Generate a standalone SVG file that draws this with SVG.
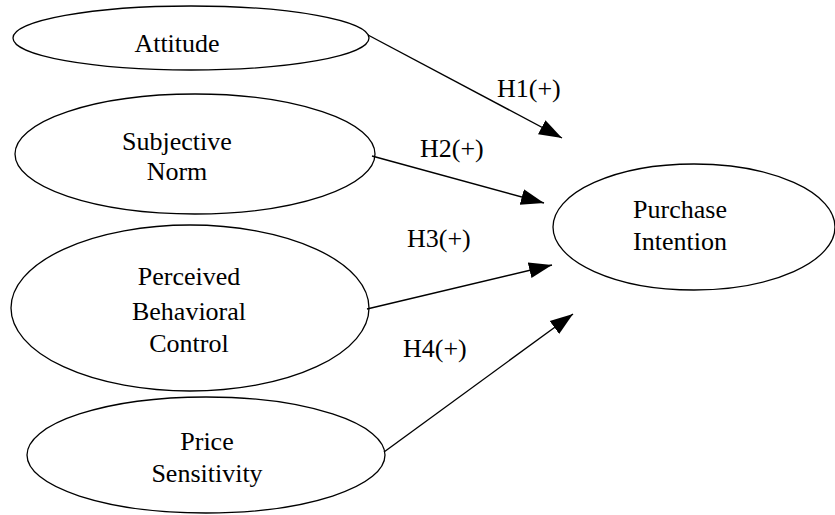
<svg xmlns="http://www.w3.org/2000/svg" width="835" height="515" viewBox="0 0 835 515">
<style>
.node ellipse{fill:#fff;stroke:#000;stroke-width:1.3}
text{font-family:"Liberation Serif","Times New Roman",serif;font-size:26px;fill:#000}
.node text{text-anchor:middle}
.edges line{stroke:#000;stroke-width:1.4}
</style>
<defs>
<marker id="arr" markerUnits="userSpaceOnUse" markerWidth="24" markerHeight="18" viewBox="0 0 24 18" refX="23" refY="9" orient="auto">
<path d="M0,1 L23,9 L0,17 Z" fill="#000"/>
</marker>
</defs>
<g id="attitude" class="node">
<ellipse cx="191" cy="38" rx="178" ry="32"/>
<text x="177" y="52">Attitude</text>
</g>
<g id="subjective-norm" class="node">
<ellipse cx="195" cy="154" rx="180" ry="60"/>
<text x="177" y="150">Subjective</text>
<text x="177" y="180">Norm</text>
</g>
<g id="pbc" class="node">
<ellipse cx="190" cy="308" rx="179" ry="83"/>
<text x="189" y="285">Perceived</text>
<text x="189" y="320">Behavioral</text>
<text x="189" y="352">Control</text>
</g>
<g id="price-sensitivity" class="node">
<ellipse cx="206" cy="455" rx="179" ry="58"/>
<text x="207" y="450">Price</text>
<text x="207" y="482">Sensitivity</text>
</g>
<g id="purchase-intention" class="node">
<ellipse cx="694" cy="227" rx="141" ry="63"/>
<text x="680" y="218">Purchase</text>
<text x="680" y="250">Intention</text>
</g>
<g id="connectors" class="edges">
<line x1="368" y1="35" x2="562" y2="138" marker-end="url(#arr)"/>
<line x1="372" y1="156" x2="544" y2="203" marker-end="url(#arr)"/>
<line x1="367" y1="309" x2="552" y2="265" marker-end="url(#arr)"/>
<line x1="384" y1="452" x2="573" y2="314" marker-end="url(#arr)"/>
<text x="497" y="97">H1(+)</text>
<text x="420" y="157">H2(+)</text>
<text x="407" y="247">H3(+)</text>
<text x="403" y="357">H4(+)</text>
</g>
</svg>
